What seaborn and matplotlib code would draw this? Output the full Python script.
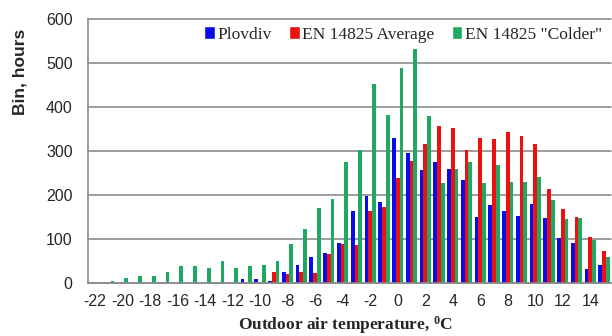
import matplotlib
matplotlib.use("Agg")
import matplotlib.pyplot as plt
from matplotlib.patches import Patch
import seaborn as sns
import pandas as pd

temps = list(range(-22, 16))
series = ["Plovdiv", "EN 14825 Average", 'EN 14825 "Colder"']

plovdiv = [0, 0, 0, 0, 0, 0, 0, 0, 0, 0, 0, 8, 8, 5, 24, 42, 58, 68, 92, 164,
           198, 183, 329, 295, 257, 276, 260, 234, 151, 177, 164, 153, 180, 147,
           102, 92, 31, 42]
en_average = [0, 0, 0, 0, 0, 0, 0, 0, 0, 0, 0, 0, 0, 24, 20, 24, 22, 66, 88, 86,
              164, 172, 238, 278, 316, 356, 353, 302, 330, 327, 344, 334, 315, 214,
              168, 150, 104, 73]
en_colder = [0, 5, 12, 16, 16, 24, 39, 39, 35, 50, 35, 39, 42, 50, 88, 122, 170, 191, 276, 302,
             452, 382, 489, 531, 380, 227, 260, 276, 227, 268, 230, 230, 242, 189,
             145, 148, 98, 58]

tick_labels = [str(t) for t in range(-22, 15, 2)]
colors = ["#0a0aeb", "#ec1010", "#1fa862"]

rows = []
for name, vals in zip(series, [plovdiv, en_average, en_colder]):
    for t, v in zip(temps, vals):
        rows.append({"temp": str(t), "series": name, "value": v})
df = pd.DataFrame(rows)

sns.set_theme(style="white")
plt.rcParams["font.family"] = ["Liberation Sans", "DejaVu Sans"]
plt.rcParams["mathtext.fontset"] = "custom"
plt.rcParams["mathtext.rm"] = "Liberation Serif"
plt.rcParams["mathtext.bf"] = "Liberation Serif:bold"

fig = plt.figure(figsize=(6.12, 3.36), dpi=100)
ax = fig.add_axes([88/612, 1-283/336, (611-88)/612, (283-19)/336])

sns.barplot(data=df, x="temp", y="value", hue="series", order=[str(t) for t in temps],
            hue_order=series, palette=colors, saturation=1, width=0.82, ax=ax,
            legend=False, errorbar=None, linewidth=0, edgecolor="none")

ax.set_xlim(-0.5, len(temps) - 0.5)
ax.set_ylim(0, 600)
ax.set_yticks(range(0, 601, 100))
ax.yaxis.grid(True, color="#8c8c8c", lw=1.2)
ax.set_axisbelow(True)
for l in ax.get_ygridlines():
    l.set_clip_on(False)

ax.set_xticks([temps.index(int(s)) for s in tick_labels])
ax.set_xticklabels(tick_labels)
ax.set_xticks([i - 0.5 for i in range(len(temps) + 1)], minor=True)
ax.tick_params(axis="x", which="major", length=0, pad=8, labelsize=11.5)
ax.tick_params(axis="x", which="minor", length=5, width=1, color="#8c8c8c", direction="out")
ax.tick_params(axis="y", length=5, width=1, color="#8c8c8c", direction="out", pad=6, labelsize=11.5)

for s in ["top", "right"]:
    ax.spines[s].set_visible(False)
for s in ["left", "bottom"]:
    ax.spines[s].set_color("#8c8c8c")
    ax.spines[s].set_linewidth(1.2)

ax.set_xlabel("")
ax.set_ylabel("")
fig.text(20/612, 1-72/336, "Bin, hours", rotation=90, fontsize=12.5, fontweight="bold",
         ha="center", va="center")
fig.text(345/612, 1-325/336, r"Outdoor air temperature, $\mathbf{^{0}}$C", fontsize=12.5,
         fontweight="bold", family="Liberation Serif", ha="center", va="center")

handles = [Patch(facecolor=c, label=n) for c, n in zip(colors, series)]
ax.legend(handles=handles, loc="upper right", bbox_to_anchor=(602/612, 1-26/336),
          bbox_transform=fig.transFigure, ncol=3, frameon=False,
          prop={"family": "Liberation Serif", "size": 12.5},
          handlelength=0.6, handleheight=0.8, handletextpad=0.15, columnspacing=1.0,
          borderaxespad=0, borderpad=0)

fig.savefig("out.png", dpi=100)
